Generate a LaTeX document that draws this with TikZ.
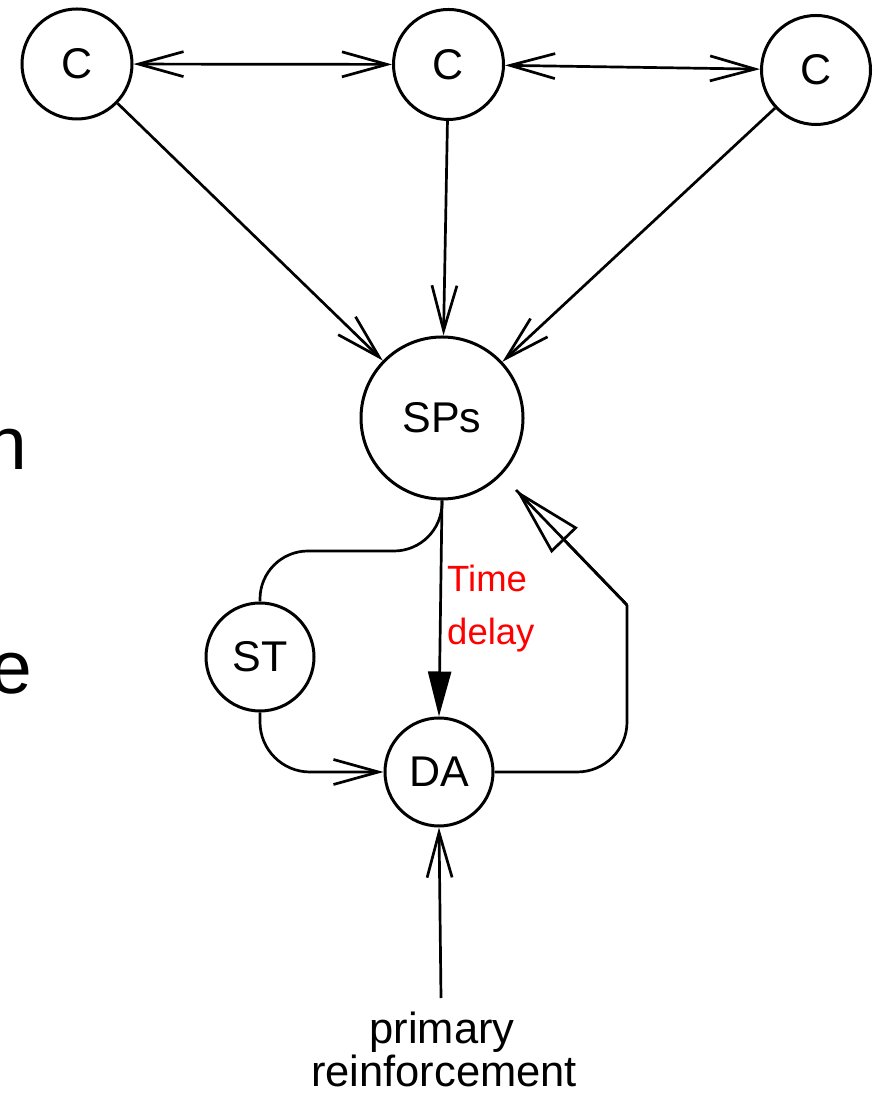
\documentclass[tikz,border=0pt]{standalone}
\usepackage{fontspec}
\setmainfont{Liberation Sans}
\usetikzlibrary{arrows.meta}

\begin{document}
\begin{tikzpicture}[x=1pt,y=1pt,
  unit/.style={circle, draw, line width=3pt, inner sep=0pt,
    font=\fontsize{43}{50}\selectfont},
  link/.style={line width=2.7pt},
  barbtip/.style={-{Straight Barb[length=45pt,width=25pt]}},
  bothbarb/.style={{Straight Barb[length=45pt,width=25pt]}-{Straight Barb[length=45pt,width=25pt]}},
  solidtip/.style={-{Triangle[length=45pt,width=23pt]}},
  opentip/.style={-{Triangle[open,length=70pt,width=36pt]}},
  caption/.style={inner sep=0pt, font=\fontsize{43.5}{50}\selectfont},
  delaytext/.style={inner sep=0pt, text=red, font=\fontsize{36.5}{42}\selectfont},
  fragment/.style={inner sep=0pt, font=\fontsize{75}{90}\selectfont}
]
\useasboundingbox (0,0) rectangle (877,1094);

% letters of neighbouring text cut by the left edge
\begin{scope}
  \clip (0,0) rectangle (877,1094);
  \node[fragment, anchor=base west] (fragn) at (-15,624) {n};
  \node[fragment, anchor=base west] (frage) at (-10,400) {e};
\end{scope}

% units
\node[unit, minimum size=110pt] (c1) at (77,1030) {C};
\node[unit, minimum size=110pt] (c2) at (448.5,1029.5) {C};
\node[unit, minimum size=109pt] (c3) at (816,1024) {C};
\node[unit, minimum size=162pt] (sps) at (442,676) {SPs};
\node[unit, minimum size=108pt] (st) at (260,437) {ST};
\node[unit, minimum size=108pt] (da) at (439,322) {DA};

\coordinate (bend) at (627,489);
\coordinate (tip) at (516,604);
\coordinate (src) at (441,96);

% cortical links
\draw[link, bothbarb] (c1) -- (c2);
\draw[link, bothbarb] (c2) -- (c3);
\draw[link, barbtip] (c1) -- (sps);
\draw[link, barbtip] (c2) -- (sps);
\draw[link, barbtip] (c3) -- (sps);

% striatal loop
\draw[link, solidtip] (sps.south) -- (da.north);
\draw[link, rounded corners=48pt] (sps.south) |- (260,543) -- (st.north);
\draw[link, barbtip, rounded corners=50pt] (st.south) |- (da.west);
\draw[link, rounded corners=50pt] (da.east) -| (bend);
\draw[link] (bend) -- (tip);
\draw[link, opentip] (bend) -- (tip);
\draw[link, barbtip] (src) -- (da.south);

% labels
\node[delaytext, anchor=base west] (t1) at (447,502) {Time};
\node[delaytext, anchor=base west] (t2) at (447,449) {delay};
\node[caption, anchor=base] (p1) at (442,50) {primary};
\node[caption, anchor=base] (p2) at (444,7) {reinforcement};
\end{tikzpicture}
\end{document}
